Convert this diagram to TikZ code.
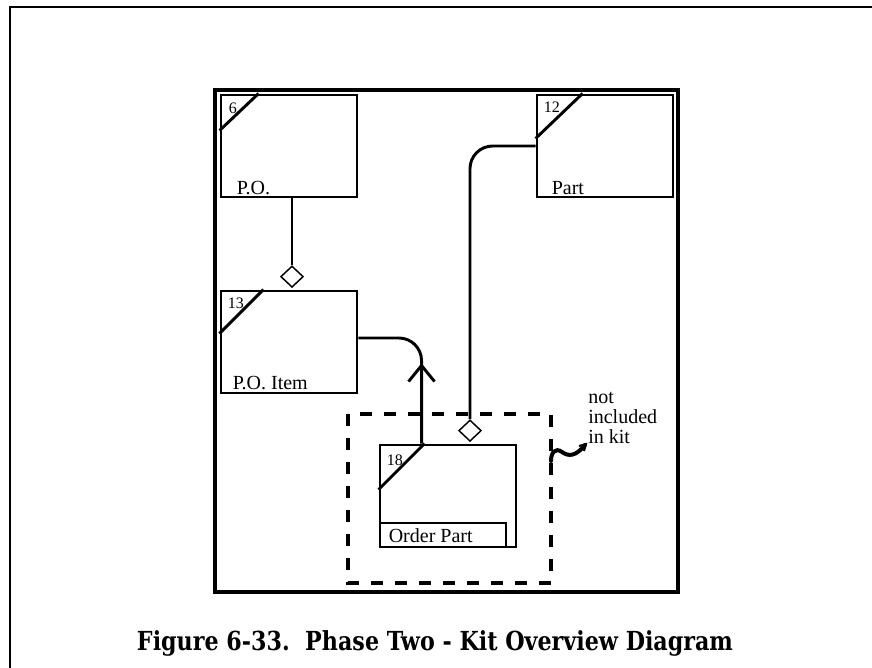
\documentclass[tikz,border=0pt]{standalone}
\usepackage{fontspec}
\setmainfont{Liberation Serif}
\newfontfamily\capfont{DejaVu Serif}
\usetikzlibrary{calc,shapes.geometric}
\begin{document}
\begin{tikzpicture}[x=0.75pt,y=-0.75pt,
  ebox/.style={draw,line width=2.2pt,minimum width=102pt,minimum height=76.5pt,inner sep=0pt},
  diag/.style={line width=2.2pt},
  conn/.style={line width=2.2pt},
  dia/.style={draw,shape=diamond,fill=white,line width=1.1pt,minimum width=17pt,minimum height=16pt,inner sep=0pt},
  num/.style={font=\fontsize{12pt}{13pt}\selectfont,inner sep=0pt,anchor=west},
  lbl/.style={font=\fontsize{15pt}{15pt}\selectfont,inner sep=0pt,anchor=west},
  frame/.style={line width=3pt},
  dsh/.style={line width=2.6pt,dash pattern=on 9pt off 9pt}]
\useasboundingbox (0,0) rectangle (872,668);
% outer page frame
\draw[line width=2pt] (10,668) -- (10,7) -- (872,7);
% inner frame
\draw[frame] (215,90) rectangle (678,592);
% entity boxes
\node[ebox] (po) at (289,146) {};
\node[ebox] (part) at (605,146) {};
\node[ebox] (poi) at (289,342) {};
\node[ebox] (op) at (448,496) {};
% diagonals
\draw[diag] ($(po.north west)+(0,37)$) -- ($(po.north west)+(39,0)$);
\draw[diag] ($(part.north west)+(0,45)$) -- ($(part.north west)+(47,0)$);
\draw[diag] ($(poi.north west)+(0,44)$) -- ($(poi.north west)+(44,0)$);
\draw[diag] ($(op.north west)+(0,46)$) -- ($(op.north west)+(46,0)$);
% numbers
\node[num] (n6) at ($(po.north west)+(9,15)$) {6};
\node[num] (n12) at ($(part.north west)+(8,14)$) {12};
\node[num] (n13) at ($(poi.north west)+(8,14)$) {13};
\node[num] (n18) at ($(op.north west)+(8,17)$) {18};
% names
\node[lbl] (lpo) at ($(po.south west)+(17,-10)$) {P.O.};
\node[lbl] (lpart) at ($(part.south west)+(16,-10)$) {Part};
\node[lbl] (lpoi) at ($(poi.south west)+(13,-11)$) {P.O. Item};
\node[draw,line width=2.2pt,anchor=south west,minimum width=94.5pt,minimum height=18pt,inner sep=0pt] (opname) at (op.south west) {};
\node[lbl] (lop) at ($(opname.west)+(10,1)$) {Order Part};
% diamonds
\node[dia,anchor=south] (d1) at ($(poi.north)+(3,-1.5)$) {};
\node[dia,anchor=south] (d2) at ($(op.north)+(22,-1.5)$) {};
% connectors
\draw[conn] (po.south -| d1.north) -- (d1.north);
\coordinate (opin) at ($(op.north west)+(43,0)$);
\draw[conn,rounded corners=17pt] (poi.east |- 0,338) -| (opin);
\draw[conn] ($(opin)+(-13,-62)$) -- ($(opin)+(0,-78)$) -- ($(opin)+(13,-62)$);
\draw[conn,rounded corners=17pt] (part.west) -| (d2.north);
% dashed kit boundary
\draw[dsh] (348,414) rectangle (551,583);
% note
\node[lbl,align=left,anchor=north west] (note) at (588,392) {not\\included\\in kit};
\coordinate (sq) at (551,461);
\draw[line width=3pt,line cap=round] (sq) .. controls (551,453) and (555,447) .. (562,452)
  .. controls (569,457) and (576,456) .. (585,445);
\draw[line width=1.5pt] (579,446) -- (586,444) -- (584,451);
% caption
\node (cap) at (435,643) {\scalebox{1}[1.18]{\resizebox{447pt}{!}{\capfont\bfseries Figure 6-33.\ \ Phase Two - Kit Overview Diagram}}};
\end{tikzpicture}
\end{document}
